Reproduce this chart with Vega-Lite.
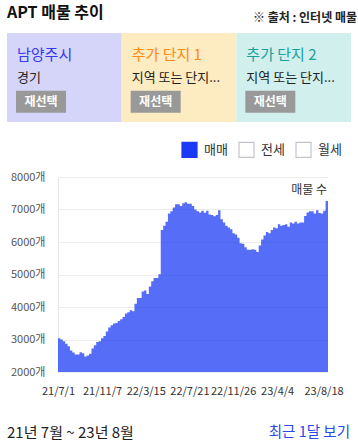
{
  "$schema": "https://vega.github.io/schema/vega-lite/v6.json",
  "padding": {"left": 7, "top": 0, "right": 0, "bottom": 0},
  "spacing": 0,
  "bounds": "flush",
  "config": {"view": {"stroke": null}, "font": "Noto Sans CJK KR", "axis": {"labelOverlap": false}, "axisY": {"labelOverlap": false}},
  "resolve": {"scale": {"color": "independent", "fill": "independent", "stroke": "independent"}, "legend": {"color": "independent", "fill": "independent", "stroke": "independent"}},
  "vconcat": [
    {
      "width": 344, "height": 33,
      "layer": [
        {
          "data": {"values": [{"item": "제목", "text": "APT 매물 추이"}]},
          "mark": {"type": "text", "align": "left", "baseline": "middle", "dy": -4, "fontSize": 16, "fontWeight": "bold", "color": "#111111"},
          "encoding": {
            "x": {"field": "item", "type": "nominal", "scale": {"type": "point", "domain": ["제목", "출처"], "padding": 0}, "axis": null},
            "text": {"field": "text"}
          }
        },
        {
          "data": {"values": [{"item": "출처", "text": "※ 출처 : 인터넷 매물"}]},
          "mark": {"type": "text", "align": "right", "baseline": "middle", "dx": 6, "dy": 1, "fontSize": 12, "fontWeight": "bold", "color": "#222222"},
          "encoding": {
            "x": {"field": "item", "type": "nominal", "axis": null},
            "text": {"field": "text"}
          }
        }
      ]
    },
    {
      "width": 344, "height": 89,
      "data": {"values": [
        {"panel": "지역", "name": "남양주시", "sub": "경기", "button": "재선택"},
        {"panel": "추가 단지 1", "name": "추가 단지 1", "sub": "지역 또는 단지...", "button": "재선택"},
        {"panel": "추가 단지 2", "name": "추가 단지 2", "sub": "지역 또는 단지...", "button": "재선택"}
      ]},
      "layer": [
        {
          "mark": {"type": "rect"},
          "encoding": {
            "x": {"field": "panel", "type": "nominal", "sort": null, "scale": {"type": "band", "paddingInner": 0, "paddingOuter": 0}, "axis": null},
            "color": {"field": "panel", "type": "nominal", "sort": null, "scale": {"range": ["#d5d5fa", "#fdecc2", "#d0efed"]}, "legend": null}
          }
        },
        {
          "mark": {"type": "text", "align": "left", "baseline": "middle", "dx": 10, "dy": -23, "fontSize": 15},
          "encoding": {
            "x": {"field": "panel", "type": "nominal", "sort": null, "bandPosition": 0, "axis": null},
            "text": {"field": "name"},
            "fill": {"field": "panel", "type": "nominal", "sort": null, "scale": {"range": ["#3838ee", "#ff8a10", "#18a09c"]}, "legend": null}
          }
        },
        {
          "mark": {"type": "text", "align": "left", "baseline": "middle", "dx": 10, "dy": 0, "fontSize": 13, "color": "#222222"},
          "encoding": {
            "x": {"field": "panel", "type": "nominal", "sort": null, "bandPosition": 0, "axis": null},
            "text": {"field": "sub"}
          }
        },
        {
          "mark": {"type": "point", "shape": "M-1,-0.44H1V0.44H-1Z", "size": 2500, "filled": true, "opacity": 1, "color": "#999999", "xOffset": 34, "yOffset": 24.2},
          "encoding": {
            "x": {"field": "panel", "type": "nominal", "sort": null, "bandPosition": 0, "axis": null}
          }
        },
        {
          "mark": {"type": "text", "align": "center", "baseline": "middle", "dx": 34, "dy": 24.2, "fontSize": 12, "fontWeight": "bold", "color": "#ffffff"},
          "encoding": {
            "x": {"field": "panel", "type": "nominal", "sort": null, "bandPosition": 0, "axis": null},
            "text": {"field": "button"}
          }
        }
      ]
    },
    {
      "width": 344, "height": 55,
      "data": {"values": []},
      "mark": "point"
    },
    {
      "hconcat": [
        {
          "width": 51, "height": 195,
          "data": {"values": []},
          "mark": "point"
        },
        {
          "width": 270, "height": 195,
          "layer": [
            {
              "data": {"values": [
                {"date": "2021-07-01", "type": "매매", "count": 3040},
                {"date": "2021-07-08", "type": "매매", "count": 3000},
                {"date": "2021-07-15", "type": "매매", "count": 2950},
                {"date": "2021-07-22", "type": "매매", "count": 2870},
                {"date": "2021-07-29", "type": "매매", "count": 2790},
                {"date": "2021-08-05", "type": "매매", "count": 2660},
                {"date": "2021-08-12", "type": "매매", "count": 2600},
                {"date": "2021-08-19", "type": "매매", "count": 2540},
                {"date": "2021-08-26", "type": "매매", "count": 2540},
                {"date": "2021-09-02", "type": "매매", "count": 2610},
                {"date": "2021-09-09", "type": "매매", "count": 2580},
                {"date": "2021-09-16", "type": "매매", "count": 2480},
                {"date": "2021-09-23", "type": "매매", "count": 2510},
                {"date": "2021-09-30", "type": "매매", "count": 2560},
                {"date": "2021-10-07", "type": "매매", "count": 2720},
                {"date": "2021-10-14", "type": "매매", "count": 2820},
                {"date": "2021-10-21", "type": "매매", "count": 2920},
                {"date": "2021-10-28", "type": "매매", "count": 2950},
                {"date": "2021-11-04", "type": "매매", "count": 3040},
                {"date": "2021-11-11", "type": "매매", "count": 3110},
                {"date": "2021-11-18", "type": "매매", "count": 3250},
                {"date": "2021-11-25", "type": "매매", "count": 3370},
                {"date": "2021-12-02", "type": "매매", "count": 3440},
                {"date": "2021-12-09", "type": "매매", "count": 3490},
                {"date": "2021-12-16", "type": "매매", "count": 3510},
                {"date": "2021-12-23", "type": "매매", "count": 3570},
                {"date": "2021-12-30", "type": "매매", "count": 3620},
                {"date": "2022-01-06", "type": "매매", "count": 3690},
                {"date": "2022-01-13", "type": "매매", "count": 3800},
                {"date": "2022-01-20", "type": "매매", "count": 3840},
                {"date": "2022-01-27", "type": "매매", "count": 3900},
                {"date": "2022-02-03", "type": "매매", "count": 3870},
                {"date": "2022-02-10", "type": "매매", "count": 4100},
                {"date": "2022-02-17", "type": "매매", "count": 4280},
                {"date": "2022-02-24", "type": "매매", "count": 4280},
                {"date": "2022-03-03", "type": "매매", "count": 4480},
                {"date": "2022-03-10", "type": "매매", "count": 4510},
                {"date": "2022-03-17", "type": "매매", "count": 4400},
                {"date": "2022-03-24", "type": "매매", "count": 4630},
                {"date": "2022-03-31", "type": "매매", "count": 4790},
                {"date": "2022-04-07", "type": "매매", "count": 4890},
                {"date": "2022-04-14", "type": "매매", "count": 4890},
                {"date": "2022-04-21", "type": "매매", "count": 5010},
                {"date": "2022-04-28", "type": "매매", "count": 6370},
                {"date": "2022-05-05", "type": "매매", "count": 6500},
                {"date": "2022-05-12", "type": "매매", "count": 6620},
                {"date": "2022-05-19", "type": "매매", "count": 6880},
                {"date": "2022-05-26", "type": "매매", "count": 6950},
                {"date": "2022-06-02", "type": "매매", "count": 7060},
                {"date": "2022-06-09", "type": "매매", "count": 7160},
                {"date": "2022-06-16", "type": "매매", "count": 7160},
                {"date": "2022-06-23", "type": "매매", "count": 7110},
                {"date": "2022-06-30", "type": "매매", "count": 7190},
                {"date": "2022-07-07", "type": "매매", "count": 7220},
                {"date": "2022-07-14", "type": "매매", "count": 7180},
                {"date": "2022-07-21", "type": "매매", "count": 7180},
                {"date": "2022-07-28", "type": "매매", "count": 7110},
                {"date": "2022-08-04", "type": "매매", "count": 7000},
                {"date": "2022-08-11", "type": "매매", "count": 6950},
                {"date": "2022-08-18", "type": "매매", "count": 6910},
                {"date": "2022-08-25", "type": "매매", "count": 6960},
                {"date": "2022-09-01", "type": "매매", "count": 6900},
                {"date": "2022-09-08", "type": "매매", "count": 6960},
                {"date": "2022-09-15", "type": "매매", "count": 6850},
                {"date": "2022-09-22", "type": "매매", "count": 6830},
                {"date": "2022-09-29", "type": "매매", "count": 6790},
                {"date": "2022-10-06", "type": "매매", "count": 6830},
                {"date": "2022-10-13", "type": "매매", "count": 6980},
                {"date": "2022-10-20", "type": "매매", "count": 6700},
                {"date": "2022-10-27", "type": "매매", "count": 6600},
                {"date": "2022-11-03", "type": "매매", "count": 6500},
                {"date": "2022-11-10", "type": "매매", "count": 6450},
                {"date": "2022-11-17", "type": "매매", "count": 6390},
                {"date": "2022-11-24", "type": "매매", "count": 6270},
                {"date": "2022-12-01", "type": "매매", "count": 6230},
                {"date": "2022-12-08", "type": "매매", "count": 6130},
                {"date": "2022-12-15", "type": "매매", "count": 5960},
                {"date": "2022-12-22", "type": "매매", "count": 5950},
                {"date": "2022-12-29", "type": "매매", "count": 5840},
                {"date": "2023-01-05", "type": "매매", "count": 5760},
                {"date": "2023-01-12", "type": "매매", "count": 5760},
                {"date": "2023-01-19", "type": "매매", "count": 5780},
                {"date": "2023-01-26", "type": "매매", "count": 5760},
                {"date": "2023-02-02", "type": "매매", "count": 5690},
                {"date": "2023-02-09", "type": "매매", "count": 5890},
                {"date": "2023-02-16", "type": "매매", "count": 6080},
                {"date": "2023-02-23", "type": "매매", "count": 6200},
                {"date": "2023-03-02", "type": "매매", "count": 6310},
                {"date": "2023-03-09", "type": "매매", "count": 6270},
                {"date": "2023-03-16", "type": "매매", "count": 6370},
                {"date": "2023-03-23", "type": "매매", "count": 6450},
                {"date": "2023-03-30", "type": "매매", "count": 6420},
                {"date": "2023-04-06", "type": "매매", "count": 6550},
                {"date": "2023-04-13", "type": "매매", "count": 6500},
                {"date": "2023-04-20", "type": "매매", "count": 6520},
                {"date": "2023-04-27", "type": "매매", "count": 6550},
                {"date": "2023-05-04", "type": "매매", "count": 6470},
                {"date": "2023-05-11", "type": "매매", "count": 6600},
                {"date": "2023-05-18", "type": "매매", "count": 6570},
                {"date": "2023-05-25", "type": "매매", "count": 6620},
                {"date": "2023-06-01", "type": "매매", "count": 6570},
                {"date": "2023-06-08", "type": "매매", "count": 6600},
                {"date": "2023-06-15", "type": "매매", "count": 6600},
                {"date": "2023-06-22", "type": "매매", "count": 6800},
                {"date": "2023-06-29", "type": "매매", "count": 6910},
                {"date": "2023-07-06", "type": "매매", "count": 6950},
                {"date": "2023-07-13", "type": "매매", "count": 6950},
                {"date": "2023-07-20", "type": "매매", "count": 6880},
                {"date": "2023-07-27", "type": "매매", "count": 6980},
                {"date": "2023-08-03", "type": "매매", "count": 6890},
                {"date": "2023-08-10", "type": "매매", "count": 6880},
                {"date": "2023-08-17", "type": "매매", "count": 6960},
                {"date": "2023-08-24", "type": "매매", "count": 7260},
                {"date": "2023-08-31", "type": "매매", "count": 7310}
              ]},
              "mark": {"type": "area", "interpolate": "step-after", "fillOpacity": 0.74, "strokeWidth": 0, "clip": true},
              "encoding": {
                "x": {
                  "field": "date", "type": "temporal",
                  "scale": {"type": "utc", "domain": [{"year": 2021, "month": 7, "date": 1, "utc": true}, {"year": 2023, "month": 8, "date": 31, "utc": true}]},
                  "axis": {
                    "title": null, "grid": false, "ticks": false, "domain": false,
                    "values": [
                      {"year": 2021, "month": 7, "date": 1, "utc": true},
                      {"year": 2021, "month": 11, "date": 7, "utc": true},
                      {"year": 2022, "month": 3, "date": 15, "utc": true},
                      {"year": 2022, "month": 7, "date": 21, "utc": true},
                      {"year": 2022, "month": 11, "date": 26, "utc": true},
                      {"year": 2023, "month": 4, "date": 4, "utc": true},
                      {"year": 2023, "month": 8, "date": 18, "utc": true}
                    ],
                    "labelExpr": "utcFormat(datum.value, '%y/%-m/%-d')",
                    "labelFlush": false, "labelOverlap": false, "labelPadding": 13,
                    "labelFontSize": 11, "labelColor": "#333333"
                  }
                },
                "y": {
                  "field": "count", "type": "quantitative",
                  "scale": {"domain": [2000, 8000], "zero": false, "nice": false},
                  "axis": {
                    "title": null, "ticks": false, "tickCount": 7, "values": [2000, 3000, 4000, 5000, 6000, 7000, 8000],
                    "labelExpr": "datum.value + '개'", "labelOverlap": false, "labelSeparation": 0,
                    "domainColor": "#e6e6e6", "gridColor": "#ececec",
                    "labelPadding": 13, "labelFontSize": 11, "labelColor": "#555555"
                  }
                },
                "color": {
                  "field": "type", "type": "nominal",
                  "scale": {"domain": ["매매", "전세", "월세"], "range": ["#1b3af6", "#ffffff", "#ffffff"]},
                  "legend": {"orient": "none", "legendX": 123, "legendY": -36, "direction": "horizontal", "title": null, "symbolType": "square", "symbolSize": 225, "symbolStrokeWidth": 1.2, "symbolOpacity": 1, "symbolFillOpacity": 1, "labelFontSize": 13, "labelColor": "#333333", "labelOffset": 6, "columnPadding": 8}
                },
                "stroke": {
                  "field": "type", "type": "nominal",
                  "scale": {"domain": ["매매", "전세", "월세"], "range": ["#1b3af6", "#c4c4d0", "#c4c4d0"]},
                  "legend": {"orient": "none", "legendX": 123, "legendY": -36, "direction": "horizontal", "title": null, "symbolType": "square", "symbolSize": 225, "symbolStrokeWidth": 1.2, "symbolOpacity": 1, "symbolFillOpacity": 1, "labelFontSize": 13, "labelColor": "#333333", "labelOffset": 6, "columnPadding": 8}
                }
              }
            },
            {
              "data": {"values": [{"label": "매물 수"}]},
              "mark": {"type": "text", "align": "right", "baseline": "middle", "dx": -1, "fontSize": 12, "color": "#333333"},
              "encoding": {
                "x": {"datum": {"year": 2023, "month": 8, "date": 31, "utc": true}, "type": "temporal"},
                "y": {"datum": 7600, "type": "quantitative"},
                "text": {"field": "label"}
              }
            }
          ]
        }
      ],
      "spacing": 0,
      "bounds": "flush",
      "resolve": {"scale": {"color": "independent", "fill": "independent", "stroke": "independent"}, "legend": {"color": "independent", "fill": "independent", "stroke": "independent"}}
    },
    {
      "width": 344, "height": 270,
      "layer": [
        {
          "data": {"values": [{"item": "기간", "text": "21년 7월 ~ 23년 8월"}]},
          "mark": {"type": "text", "align": "left", "baseline": "middle", "dy": 121, "fontSize": 15, "color": "#222222"},
          "encoding": {
            "x": {"field": "item", "type": "nominal", "scale": {"type": "point", "domain": ["기간", "링크"], "padding": 0}, "axis": null},
            "text": {"field": "text"}
          }
        },
        {
          "data": {"values": [{"item": "링크", "text": "최근 1달 보기"}]},
          "mark": {"type": "text", "align": "right", "baseline": "middle", "dx": -1, "dy": 121, "fontSize": 14.5, "color": "#2a4ae8"},
          "encoding": {
            "x": {"field": "item", "type": "nominal", "axis": null},
            "text": {"field": "text"}
          }
        }
      ]
    }
  ]
}
